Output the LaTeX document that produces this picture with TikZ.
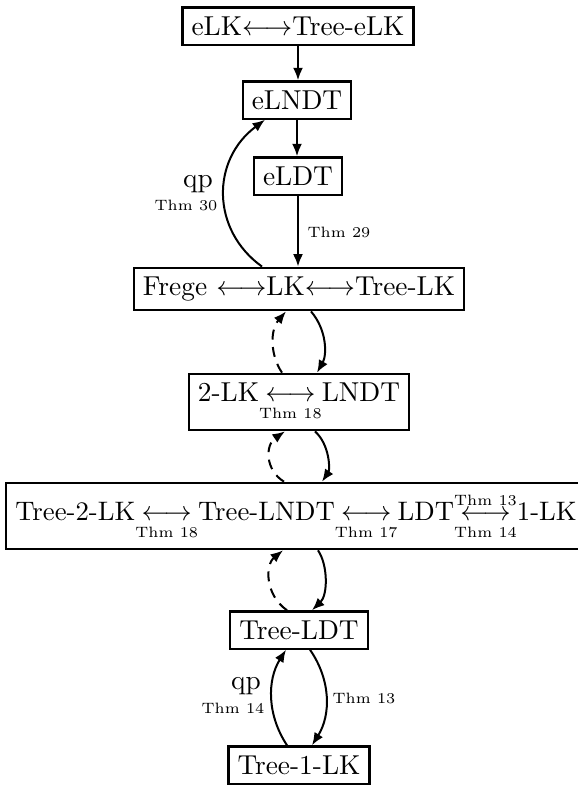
\documentclass[tikz,border=0pt,11pt]{standalone}
\usepackage{amsmath}
\usetikzlibrary{arrows.meta}
\newcommand{\thm}[1]{\text{\tiny Thm #1}}
\begin{document}
\begin{tikzpicture}[x=0.4pt,y=-0.4pt,
  box/.style={draw, line width=0.9pt},
  conn/.style={line width=0.8pt, -{Latex[length=5pt,width=4pt]}},
  dconn/.style={conn, dashed, dash pattern=on 4pt off 3pt},
  lbl/.style={font=\tiny, inner sep=0pt},
  big/.style={inner sep=0pt}]
\useasboundingbox (0,0) rectangle (578,787);
\node[box] (top) at (298,26) {eLK$\longleftrightarrow$Tree-eLK};
\node[box] (elndt) at (297,100) {eLNDT};
\node[box] (eldt) at (298,176) {eLDT};
\node[box] (lk) at (299,289) {Frege $\longleftrightarrow$LK$\longleftrightarrow$Tree-LK};
\node[box] (twolk) at (299,402) {2-LK$\underset{\thm{18}}{\longleftrightarrow}$LNDT};
\node[box, font=\fontsize{10.7}{13}\selectfont] (row) at (296,516) {Tree-2-LK$\underset{\thm{18}}{\longleftrightarrow}$Tree-LNDT$\underset{\thm{17}}{\longleftrightarrow}$LDT$\overset{\thm{13}}{\underset{\thm{14}}{\longleftrightarrow}}$1-LK};
\node[box] (tldt) at (299,630) {Tree-LDT};
\node[box] (t1lk) at (299,765) {Tree-1-LK};

\draw[conn] (top.south) -- (top.south |- elndt.north);
\draw[conn] (elndt.south) -- (elndt.south |- eldt.north);
\draw[conn] (eldt.south) -- (eldt.south |- lk.north);
\node[lbl] (t29) at (339,232) {Thm 29};

\draw[conn] (262,0 |- lk.north) .. controls (211,230) and (211,160) .. (265,0 |- elndt.south);
\node[big] (qp1) at (198,184) {qp};
\node[lbl] (t30) at (186,205) {Thm 30};

\draw[conn] (311,0 |- lk.south) .. controls (327,330) and (327,355) .. (317,0 |- twolk.north);
\draw[dconn] (282,0 |- twolk.north) .. controls (270,355) and (270,330) .. (286,0 |- lk.south);

\draw[conn] (315,0 |- twolk.south) .. controls (330,445) and (330,470) .. (322,0 |- row.north);
\draw[dconn] (284,0 |- row.north) .. controls (265,470) and (265,445) .. (285,0 |- twolk.south);

\draw[conn] (318,0 |- row.south) .. controls (328,565) and (328,595) .. (312,0 |- tldt.north);
\draw[dconn] (287,0 |- tldt.north) .. controls (265,595) and (265,565) .. (283,0 |- row.south);

\draw[conn] (310,0 |- tldt.south) .. controls (331,680) and (331,715) .. (312,0 |- t1lk.north);
\node[lbl] (t13) at (364,698) {Thm 13};
\draw[conn] (287,0 |- t1lk.north) .. controls (267,715) and (267,680) .. (286,0 |- tldt.south);
\node[big] (qp2) at (246,686) {qp};
\node[lbl] (t14) at (233,708) {Thm 14};
\end{tikzpicture}
\end{document}
